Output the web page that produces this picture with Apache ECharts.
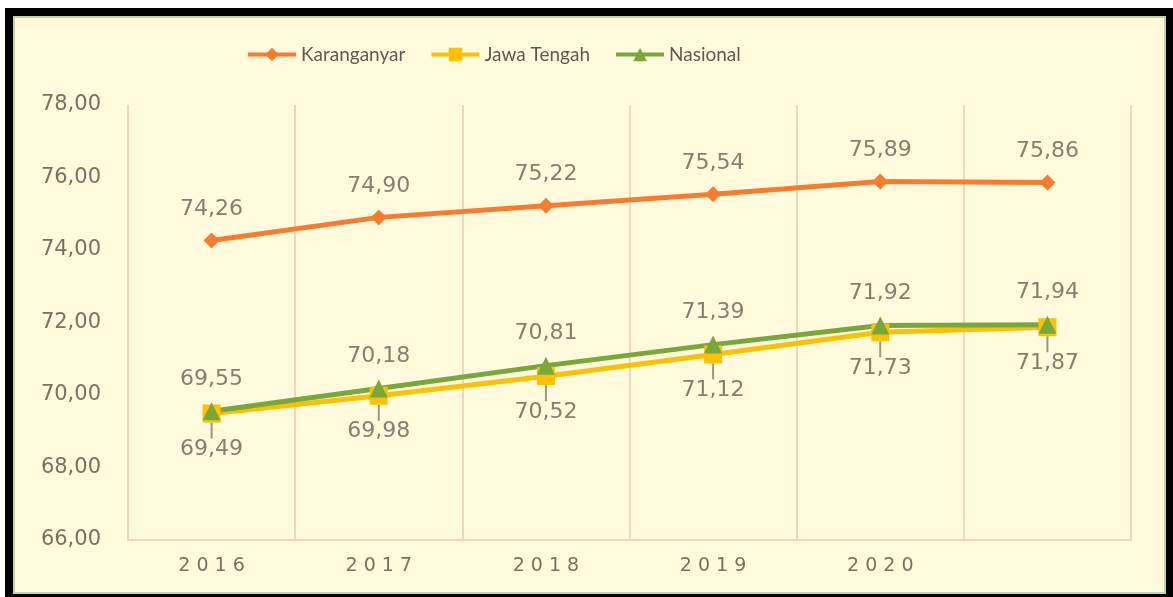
<!DOCTYPE html>
<html>
<head>
<meta charset="utf-8">
<script src="https://cdn.jsdelivr.net/npm/echarts@6/dist/echarts.min.js"></script>
<style>
    html, body { margin: 0; padding: 0; background: #fff; }
    #frame { position: absolute; left: 5px; top: 8px; width: 1168px; height: 589px; background: #000; }
    #inner { position: absolute; left: 13px; top: 16px; width: 1149px; height: 574px;
             border: 2px solid #C4D79B; background: #FFFBDC; }
    #chart { position: absolute; left: 0; top: 0; width: 1173px; height: 597px; }
</style>
</head>
<body>
<div id="frame"></div>
<div id="inner"></div>
<div id="chart"></div>
<script>
// data
var years = ['2016', '2017', '2018', '2019', '2020', ''];
var karanganyar = [74.26, 74.90, 75.22, 75.54, 75.89, 75.86];
var jawaTengah = [69.49, 69.98, 70.52, 71.12, 71.73, 71.87];
var nasional = [69.55, 70.18, 70.81, 71.39, 71.92, 71.94];
var yMin = 66, yMax = 78, yStep = 2;

var txtColor = '#7F6F63';
var lblColor = '#8C7C70';
var gridColor = '#EED8BD';
var numFont = 'DejaVu Sans';

function fmt(v) {
    return Number(v).toFixed(2).replace('.', ',');
}

// label atas (Karanganyar & Nasional)
function topLabel() {
    return {
        show: true,
        position: 'top',
        distance: 12,
        fontSize: 22,
        fontFamily: numFont,
        color: lblColor,
        formatter: function (p) { return fmt(p.value); }
    };
}

function initEcharts() {
    var myChart = echarts.init(document.getElementById('chart'));

    var option = {
        backgroundColor: 'transparent',
        grid: {
            left: 128,
            right: 42,
            top: 105,
            bottom: 57
        },
        legend: {
            top: 40,
            left: 241,
            itemWidth: 48,
            itemHeight: 17,
            itemGap: 24,
            lineStyle: { width: 4 },
            textStyle: { fontSize: 19, color: '#665850', fontFamily: 'Lato' },
            data: ['Karanganyar', 'Jawa Tengah', 'Nasional']
        },
        xAxis: {
            type: 'category',
            data: years,
            boundaryGap: true,
            axisLine: { lineStyle: { color: gridColor, width: 2 } },
            axisTick: { show: false },
            splitLine: { show: true, lineStyle: { color: gridColor, width: 2 } },
            axisLabel: {
                fontSize: 19,
                fontFamily: numFont,
                color: txtColor,
                margin: 17,
                formatter: function (v) {
                    return v.split('').join(' ');
                }
            }
        },
        yAxis: {
            type: 'value',
            min: yMin,
            max: yMax,
            interval: yStep,
            axisLine: { show: false },
            axisTick: { show: false },
            splitLine: { show: false },
            axisLabel: {
                fontSize: 21,
                fontFamily: numFont,
                color: txtColor,
                margin: 27,
                formatter: fmt
            }
        },
        series: [
            {
                name: 'Karanganyar',
                type: 'line',
                data: karanganyar,
                symbol: 'diamond',
                symbolSize: 16,
                lineStyle: { width: 5, color: '#FA7B2E' },
                itemStyle: { color: '#FA7B2E' },
                label: topLabel()
            },
            {
                name: 'Jawa Tengah',
                type: 'line',
                data: jawaTengah,
                symbol: 'rect',
                symbolSize: 18,
                lineStyle: { width: 5, color: '#FFC000' },
                itemStyle: { color: '#FFC000' },
                label: {
                    show: true,
                    position: 'bottom',
                    distance: 4,
                    fontSize: 22,
                    fontFamily: numFont,
                    color: lblColor,
                    formatter: function (p) { return fmt(p.value); }
                },
                labelLayout: { dy: 12 },
                labelLine: {
                    show: true,
                    lineStyle: { color: '#A39485', width: 2 }
                }
            },
            {
                name: 'Nasional',
                type: 'line',
                data: nasional,
                symbol: 'triangle',
                symbolSize: 18,
                lineStyle: { width: 5, color: '#78A83A' },
                itemStyle: { color: '#78A83A' },
                label: topLabel()
            }
        ]
    };

    myChart.setOption(option);
}

initEcharts();
</script>
</body>
</html>
